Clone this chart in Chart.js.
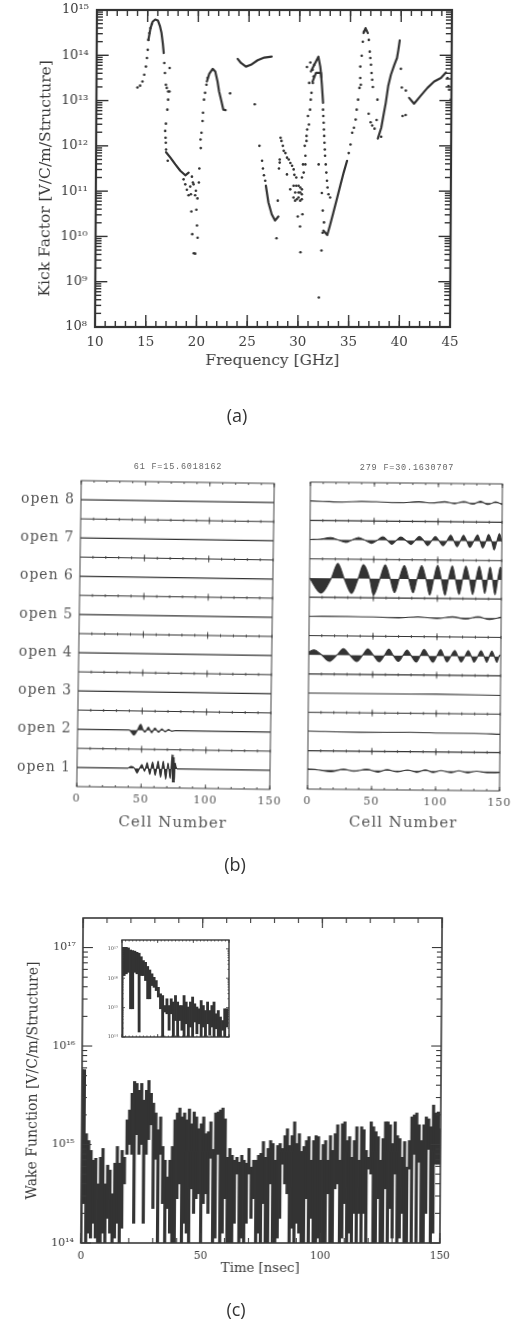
<!DOCTYPE html>
<html><head><meta charset="utf-8">
<script src="https://cdn.jsdelivr.net/npm/chart.js@4/dist/chart.umd.js"></script>
<style>
html,body{margin:0;padding:0;background:#fff;width:512px;height:1333px;overflow:hidden}
#page{position:relative;width:512px;height:1333px;overflow:hidden;filter:blur(0.45px)}
canvas{position:absolute}
.cap{position:absolute;font-family:"Open Sans",sans-serif;font-size:18px;color:#333;transform:translateX(-50%)}
.head{position:absolute;font-family:"Liberation Mono",monospace;font-size:8.5px;color:#666;letter-spacing:0.8px;transform:translateX(-50%);white-space:nowrap}
</style></head><body>
<div id="page">
<canvas id="ca" width="512" height="375" style="left:0px;top:0px"></canvas>
<canvas id="bl" width="290" height="385" style="left:0px;top:455px"></canvas>
<canvas id="br" width="240" height="385" style="left:290px;top:455px"></canvas>
<canvas id="cc" width="512" height="385" style="left:0px;top:900px"></canvas>
<canvas id="ci" width="140" height="110" style="left:100px;top:935px"></canvas>
<div class="cap" style="left:237px;top:403px">(a)</div>
<div class="cap" style="left:235px;top:852px">(b)</div>
<div class="cap" style="left:236px;top:1297px">(c)</div>
<div class="head" style="left:178px;top:462px">61 F=15.6018162</div>
<div class="head" style="left:407px;top:463px">279 F=30.1630707</div>
</div>
<script>
/* ---------- panel (a): kick factor, log10 of value ---------- */
const freqTicks=[10,15,20,25,30,35,40,45];
const kickTicks=[1e8,1e9,1e10,1e11,1e12,1e13,1e14,1e15];
const kickLabels=["10⁸","10⁹","10¹⁰","10¹¹","10¹²","10¹³","10¹⁴","10¹⁵"];
const scatterFreq=[14.04,14.3,14.53,14.7,14.86,14.96,15.03,15.09,15.19,15.29,15.42,16.67,16.74,16.84,16.93,17.07,17.2,17.2,17.07,17.0,16.87,16.8,16.84,16.87,16.9,17.07,
18.64,18.81,18.97,19.14,19.37,19.3,19.56,19.63,19.86,19.79,20.02,20.15,19.46,20.19,19.43,19.92,19.99,19.53,20.06,19.69,19.83,20.29,20.32,
20.38,20.48,20.52,20.61,20.71,20.84,20.94,23.18,25.61,26.1,26.37,26.46,26.56,26.69,27.84,27.94,
28.18,28.27,28.41,28.5,28.67,28.83,29.0,29.16,29.33,29.49,29.56,29.75,28.83,28.11,28.11,28.04,29.16,29.49,29.75,29.98,30.15,30.31,29.65,29.98,30.15,30.31,29.49,29.82,30.15,29.65,30.31,29.98,30.38,29.92,30.15,30.21,32.28,32.05,
30.31,30.48,30.64,30.41,30.64,30.57,30.74,30.74,30.8,30.97,30.87,31.07,31.13,31.2,31.33,31.4,30.97,30.74,31.07,31.3,31.46,
32.35,32.38,32.42,32.45,32.48,32.51,32.55,32.58,32.65,32.71,32.78,32.84,32.94,33.1,31.95,32.28,32.38,32.51,32.38,
34.91,35.08,35.24,35.41,35.57,35.67,35.8,35.93,36.06,36.0,36.0,36.13,36.23,36.33,
36.82,36.92,36.98,37.05,37.11,37.18,37.25,37.71,36.85,37.05,37.21,37.44,37.64,
40.0,40.1,40.5,40.2,40.5,38.1,44.6,44.77,44.94,44.7];
const scatterLogK=[13.29,13.33,13.42,13.57,13.75,13.94,14.12,14.34,14.49,14.6,14.69,13.83,13.61,13.35,13.28,13.2,13.2,13.72,13.02,12.8,12.49,12.33,12.18,12.07,11.92,11.67,
11.26,11.15,11.03,10.91,10.93,11.1,11.19,11.15,11.01,10.91,10.84,11.19,11.32,11.5,10.55,10.59,10.24,10.05,9.97,9.63,9.62,12.14,11.95,
12.29,12.55,12.73,13.02,13.17,13.35,13.5,13.16,12.92,12.0,11.67,11.5,11.35,11.23,9.96,10.79,
12.18,12.11,12.0,11.89,11.84,11.74,11.7,11.62,11.56,11.48,11.36,11.3,11.37,11.7,11.63,11.5,11.04,11.12,11.12,11.12,11.08,11.04,10.97,10.97,10.97,10.93,10.86,10.82,10.79,10.79,10.82,10.86,10.49,10.44,10.22,9.65,9.69,8.65,
11.3,11.41,11.59,11.59,11.78,12.0,12.11,12.22,12.36,12.47,12.66,12.8,13.02,13.17,13.39,13.53,13.39,13.74,13.84,13.68,13.79,
12.8,12.66,12.51,12.36,12.22,12.07,11.92,11.78,11.59,11.41,11.23,11.08,10.93,10.86,11.59,10.96,10.57,10.31,10.08,
11.84,12.03,12.29,12.4,12.58,12.8,13.02,13.28,13.35,13.5,13.75,13.99,14.3,14.52,
14.34,14.08,13.94,13.79,13.61,13.46,13.3,13.02,12.71,12.52,12.45,12.38,12.57,
13.7,13.29,13.22,12.66,12.68,12.2,13.5,13.24,13.02,13.32];
const ridgeFreq=[
 [15.09,15.29,15.49,15.75,16.01,16.21,16.38,16.51,16.61],
 [16.9,17.33,17.82,18.31,18.81,19.14],
 [20.88,21.11,21.44,21.7,21.93,22.09,22.32,22.52,22.75],
 [26.76,27.02,27.35,27.68,28.01],
 [23.9,24.23,24.72,25.21,25.87,26.53,27.25],
 [31.13,31.46,31.86,32.05,32.18],
 [31.3,31.63,32.12,32.22,32.35],
 [32.45,32.84,33.1,33.43,33.76,34.09,34.42,34.75],
 [36.29,36.49,36.72],
 [37.77,38.1,38.3,38.53,38.76,39.02,39.35,39.61,39.74,39.87],
 [40.83,41.32,41.98,42.63,43.29,43.95,44.44]];
const ridgeLogK=[
 [14.34,14.6,14.74,14.79,14.77,14.65,14.49,14.27,14.05],
 [11.86,11.74,11.59,11.45,11.35,11.41],
 [13.42,13.59,13.7,13.64,13.42,13.2,12.99,12.8,12.79],
 [11.12,10.75,10.49,10.35,10.44],
 [13.92,13.83,13.75,13.79,13.89,13.95,13.97],
 [13.64,13.79,13.97,13.75,13.5],
 [13.42,13.61,13.61,13.35,12.95],
 [10.13,10.03,10.24,10.53,10.82,11.12,11.41,11.67],
 [14.49,14.6,14.49],
 [12.16,12.4,12.66,12.95,13.32,13.57,13.79,13.94,14.12,14.33],
 [13.06,12.93,13.11,13.28,13.42,13.5,13.62]];

/* ---------- panel (b): mode amplitudes by cell, in row units ---------- */
const cellTicks=[0,50,100,150];
const rowLabels=["open 1","open 2","open 3","open 4","open 5","open 6","open 7","open 8"];
const rowBase=[1,3,5,7,9,11,13,15];
const tickRows=[2,4,6,8,10,12,14];
const flatCells=[0,150], flatAmp=[0,0];
const leftOpen2Cells=[0,40,44,46.5,49,51,52.5,55,57.6,60,63,65.5,68,70.7,73,76,150];
const leftOpen2Amp=[0,0,-0.26,0,0.3,0,-0.1,0.16,-0.13,0.12,-0.1,0.08,-0.07,0.05,-0.03,0,0];
const leftOpen1Cells=[0,39.5,42,44.7,46.7,48.6,50.4,52.5,54.5,56.6,58.7,60.8,63,65,67,69,70.7,72.5,73.8,74.2,74.6,75,75.4,75.8,76.2,77,78,150];
const leftOpen1Amp=[0,0,0.1,0,-0.25,0,0.2,-0.15,0.3,-0.3,0.35,-0.35,0.4,-0.45,0.4,-0.55,0.3,-0.5,0.75,-0.7,0.75,-0.7,0.6,-0.7,0.3,0.1,0,0];
const rightOpen8Cells=[0,10,25,40,55,70,85,95,105,113,120,127,133,139,145,150];
const rightOpen8Amp=[0.02,0,-0.03,0.02,0,-0.03,0.03,-0.03,0.04,-0.05,0.06,-0.07,0.08,-0.08,0.06,-0.08];
const rightOpen7Cells=[0,8,16,22,28,33,38,43,48,52.5,57,60.5,64,67.5,71,75,79,82,85.5,89,92,95,98,101,104,107,110,112.5,115,117.5,120,122.5,125,128,131,133,135,137.5,139.5,142,144,146,148,150];
const rightOpen7Amp=[0,0.03,0.12,0,-0.13,0,0.13,0,-0.16,0,0.18,0,-0.2,0,0.18,0,-0.2,0,0.22,0,-0.25,0,0.22,0,-0.25,0,0.3,0,-0.3,0,0.3,0,-0.32,0,0.32,0,-0.35,0,0.35,0,-0.45,0,0.4,0];
const rightOpen6Cells=[0,9,17,22,27,33,38,42,47,50,55,59,63,66.5,70,74,77.5,81,84,87.5,91,94,97,100,103,106,108.5,111.5,114,117,119.5,122,125,127.5,130,132.5,135,137,139,141,143,145,147,149,150];
const rightOpen6Amp=[0,-0.78,0,0.78,0,-0.78,0,0.72,0,-0.86,0,0.72,0,-0.72,0,0.7,0,-0.72,0,0.7,0,-0.83,0,0.72,0,-0.83,0,0.7,0,-0.78,0,0.7,0,-0.78,0,0.7,0,-0.72,0,0.66,0,-0.78,0,0.66,0.5];
const rightOpen5Cells=[0,30,50,70,85,100,112,122,132,141,150];
const rightOpen5Amp=[0,0.02,0,-0.03,0.03,-0.05,0.05,-0.06,0.06,-0.07,0.05];
const rightOpen4Cells=[0,4,10,16,22,27,32,37.5,42,46,50.5,55,59,62.5,66,70,73.5,76.7,80,84,87,90,93.5,97,100,103,105.5,108,111,114,116.5,119,122,124.5,127,129,132,134.5,137,139,141,143,145,147,148.5,149.5];
const rightOpen4Amp=[0.15,0.26,0,-0.33,0,0.33,0,-0.33,0,0.33,0,-0.33,0,0.33,0,-0.3,0,0.3,0,-0.33,0,0.33,0,-0.33,0,0.33,0,-0.3,0,0.3,0,-0.3,0,0.3,0,-0.3,0,0.3,0,-0.3,0,0.28,0,-0.3,0,0.1];
const rightOpen3Cells=[0,60,100,150];
const rightOpen3Amp=[0,0,0.01,-0.02];
const rightOpen2Cells=[0,40,80,110,130,150];
const rightOpen2Amp=[0.02,-0.01,0.01,-0.02,-0.02,-0.05];
const rightOpen1Cells=[0,8,18,28,36,46,55,62,70,78,85,92,98,104,112,118,125,132,140,150];
const rightOpen1Amp=[0.05,0,-0.08,0.05,-0.05,0.06,-0.08,0.05,-0.06,0.04,-0.07,0.05,-0.07,0.03,-0.07,0.03,-0.07,0.02,-0.06,-0.05];

/* ---------- panel (c): wake per ns, log10 of top and bottom of the trace ---------- */
const timeTicks=[0,50,100,150];
const wakeTicks=[1e14,1e15,1e16,1e17];
const wakeLabels=["10¹⁴","10¹⁵","10¹⁶","10¹⁷"];
const wakeHigh=[
15.76,15.76,15.11,15.04,14.94,14.84,14.86,14.6,14.87,14.96,
14.6,14.79,14.74,14.5,14.81,14.98,14.81,14.94,14.87,15.25,
15.35,15.52,15.64,15.62,15.55,15.62,15.45,15.55,15.65,15.52,
15.42,15.32,15.15,15.28,14.98,14.84,14.67,14.84,14.98,15.25,
15.32,15.37,15.28,15.32,15.25,15.36,15.21,15.33,15.28,15.16,
15.21,15.28,15.11,15.13,15.23,14.95,15.32,15.33,15.35,15.37,
15.26,14.87,14.96,14.89,14.84,14.87,14.82,14.89,14.84,14.81,
14.96,14.77,14.84,14.84,14.89,14.91,15.03,14.87,14.96,15.04,
15.01,14.84,14.99,15.01,14.96,15.09,15.16,14.99,15.09,15.23,
15.01,15.11,14.93,14.98,15.04,15.08,14.84,15.04,15.09,15.08,
14.84,15.0,15.04,14.84,15.09,14.94,15.11,15.2,14.84,15.21,
15.23,15.04,15.08,14.87,15.04,15.18,14.84,15.18,15.15,14.94,
14.87,15.23,15.18,15.13,15.08,14.84,15.06,15.23,15.23,15.2,
15.01,15.23,15.09,15.06,14.87,15.03,14.77,15.04,15.28,15.3,
15.32,15.2,15.04,15.2,15.28,15.26,15.18,15.4,15.32,15.33,15.16];
const wakeLow=[
14,14.4,14,14.1,14.05,14.2,14.05,14,14,14.1,
14,14.25,14.1,14,14.05,14.2,14,14.15,14.6,14.9,
15,14.9,14.2,15.1,14.9,15,14.2,14.9,15.05,15.2,
14.35,14.85,14,14.9,14.4,14,14.35,14.1,14,14,
14.45,14.6,14,14.2,14.1,14,14.55,14.3,14.45,14.5,
14,14.4,14.5,14.3,14.86,14,14.05,14.9,14,14.1,
14.45,14,14,14,14.2,14.7,14,14.05,14,14.2,
14.7,14.25,14.45,14,14.1,14,14.4,14,14,14.6,
14,14,14.05,14.25,14.8,14.6,14.5,14,14.15,14,
14.2,14.1,14,14,14.45,14,14.25,14,14,14.05,
14,14,14,14.5,14,14,14.55,14.6,14,14.05,
14.4,14,14.1,14,14.3,14,14.3,14,14.3,14,
14.75,14.7,14,14,14.45,14,14,14.55,14,14.35,
14.05,14.7,14,14.05,14.3,14,14,14.75,14,14.9,
14,14.82,14,14,14.3,14.95,14,14.1,14.8,14.8,14.8];
/* inset: one entry every 3 ns */
const insetHigh=[17.05,17.05,17.05,17.03,16.96,16.94,16.92,16.88,16.85,16.73,16.6,16.54,16.4,16.28,16.15,16.03,15.92,15.69,15.47,15.41,15.07,15.3,15.07,15.3,15.19,15.41,15.19,15.07,15.07,15.41,15.19,15.02,15.19,15.36,15.13,15.02,14.96,15.24,15.07,14.9,15.19,14.9,15.07,15.19,14.79,14.9,14.68,14.56,14.96,14.96];
const insetLow=[14,16.09,16.15,16.2,14.96,14.96,16.2,16.15,14.17,16.09,16.09,15.92,15.3,15.3,15.75,15.69,15.58,15.36,14.96,14,14.85,14.79,14.23,14.79,14,14.56,14,14.56,14.23,14,14.45,14,14.34,14,14.51,14.11,14.45,14,14.34,14,14.45,14.06,14.34,14,14.28,14,14,14.23,14,14.34];
const insetStep=3;

/* ---------- helpers ---------- */
const INK='#3a3a3a';
function decadeMinors(from,to){const r=[];for(let e=from;e<to;e++)for(let m=2;m<=9;m++)r.push(m*Math.pow(10,e));return r;}
function range(a,b,s){const r=[];for(let v=a;v<=b;v+=s)r.push(v);return r;}
const marks={id:'marks',
 beforeDraw(c,a,o){c.ctx.letterSpacing=o.spacing||'0px';},
 afterDatasetsDraw(c,a,o){
  const {ctx,chartArea:A,scales:{x,y}}=c;ctx.save();ctx.strokeStyle=o.color||INK;
  const seg=(x1,y1,x2,y2)=>{ctx.beginPath();ctx.moveTo(x1,y1);ctx.lineTo(x2,y2);ctx.stroke();};
  ctx.lineWidth=o.tickWidth||1;
  const xt=(l,n)=>(l||[]).forEach(v=>{const p=x.getPixelForValue(v);seg(p,A.top,p,A.top+n);seg(p,A.bottom,p,A.bottom-n);});
  const yt=(l,n)=>(l||[]).forEach(v=>{const p=y.getPixelForValue(v);seg(A.left,p,A.left+n,p);seg(A.right,p,A.right-n,p);});
  xt(o.xMinor,o.minLen);xt(o.xMajor,o.majLen);yt(o.yMinor,o.minLen);yt(o.yMajor,o.majLen);
  (o.rows||[]).forEach(r=>{const p=y.getPixelForValue(r);
    (o.rowMinor||[]).forEach(v=>{const q=x.getPixelForValue(v);seg(q,p-1.5,q,p+1.5);});
    (o.rowMajor||[]).forEach(v=>{const q=x.getPixelForValue(v);seg(q,p-3.5,q,p+3.5);});});
  ctx.lineWidth=o.frame||1.5;ctx.strokeRect(A.left,A.top,A.right-A.left,A.bottom-A.top);
  ctx.restore();}};
function build(id,box,type,datasets,xc,yc,markOpts){
 const xs=Object.assign({type:'linear',offset:false,grid:{display:false,drawTicks:false},border:{display:false},afterFit:s=>{s.height=box.h-box.b;}},xc);
 const ys=Object.assign({grid:{display:false,drawTicks:false},border:{display:false},afterFit:s=>{s.width=box.l;}},yc);
 return new Chart(document.getElementById(id),{type,data:{datasets},plugins:[marks],options:{
  responsive:false,animation:false,devicePixelRatio:1,events:[],
  layout:{padding:{left:0,right:box.w-box.r,top:box.t,bottom:0}},
  plugins:{legend:{display:false},tooltip:{enabled:false},title:{display:false},marks:markOpts},
  scales:{x:xs,y:ys}}});
}
function fixedTicks(list){return s=>{s.ticks=list.map(v=>({value:v}));};}
const zip=(a,b,f)=>a.map((v,i)=>({x:v,y:f(b[i])}));
const pow10=e=>Math.pow(10,e);

/* ---------- panel (a) ---------- */
const aData=[{data:zip(scatterFreq,scatterLogK,pow10),showLine:false,pointRadius:1.3,pointBackgroundColor:'#333',pointBorderWidth:0}];
ridgeFreq.forEach((f,i)=>aData.push({data:zip(f,ridgeLogK[i],pow10),showLine:true,borderColor:'#333',borderWidth:2.2,pointRadius:0,tension:0,borderCapStyle:'round',borderJoinStyle:'round'}));
const serifA='"DejaVu Serif",serif';
const chA=build('ca',{l:96,r:451,t:10,b:327,w:512,h:375},'scatter',aData,
 {min:10,max:45,afterBuildTicks:fixedTicks(freqTicks),
  ticks:{autoSkip:false,maxRotation:0,padding:7,color:INK,font:{family:serifA,size:13.5}},
  title:{display:true,text:'Frequency [GHz]',color:INK,font:{family:serifA,size:15.4},padding:{top:0,bottom:5}}},
 {type:'logarithmic',min:1e8,max:1e15,afterBuildTicks:fixedTicks(kickTicks),grid:{display:false,drawTicks:true,tickLength:6},
  ticks:{autoSkip:false,padding:2,color:INK,font:{family:serifA,size:13},callback:(v,i)=>kickLabels[i]},
  title:{display:true,text:'Kick Factor [V/C/m/Structure]    ',color:INK,font:{family:serifA,size:15.5},padding:{top:37,bottom:0}}},
 {xMajor:freqTicks,xMinor:range(10,45,1),yMajor:kickTicks,yMinor:decadeMinors(8,15),majLen:12,minLen:6,frame:2.2,tickWidth:1.4,color:'#333'});

/* ---------- panel (b) ---------- */
const serifB='"DejaVu Serif",serif';
function rowSet(cells,amp,base,filled){return {data:cells.map((c,i)=>({x:c,y:base+amp[i]})),showLine:true,borderColor:'#333',borderWidth:1.1,pointRadius:0,
  cubicInterpolationMode:'monotone',fill:filled?{value:base}:false,backgroundColor:'#333'};}
const baseRows=tickRows.map(r=>rowSet(flatCells,flatAmp,r,false));
const bMarks={xMajor:cellTicks,xMinor:range(0,150,10),rows:tickRows,rowMinor:range(10,150,10),rowMajor:[50,100],majLen:4,minLen:2,frame:1,tickWidth:0.9,spacing:'1px',color:'#444'};
const bX={min:0,max:150,afterBuildTicks:fixedTicks(cellTicks),
  ticks:{autoSkip:false,maxRotation:0,padding:6,color:'#555',font:{family:serifB,size:11}},
  title:{display:true,text:'Cell Number',color:'#555',font:{family:serifB,size:15},padding:{top:0,bottom:8}}};
const leftRows=[rowSet(leftOpen1Cells,leftOpen1Amp,1,true),rowSet(leftOpen2Cells,leftOpen2Amp,3,true)];
for(let i=2;i<8;i++)leftRows.push(rowSet(flatCells,flatAmp,rowBase[i],false));
build('bl',{l:79,r:272,t:27,b:333,w:290,h:385},'scatter',baseRows.concat(leftRows),bX,
 {type:'linear',min:0,max:16,afterBuildTicks:fixedTicks(rowBase),
  ticks:{autoSkip:false,padding:6,color:'#555',font:{family:serifB,size:14},callback:(v,i)=>rowLabels[i]}},bMarks);
const rightRows=[rowSet(rightOpen1Cells,rightOpen1Amp,1,true),rowSet(rightOpen2Cells,rightOpen2Amp,3,false),rowSet(rightOpen3Cells,rightOpen3Amp,5,false),
 rowSet(rightOpen4Cells,rightOpen4Amp,7,true),rowSet(rightOpen5Cells,rightOpen5Amp,9,true),rowSet(rightOpen6Cells,rightOpen6Amp,11,true),
 rowSet(rightOpen7Cells,rightOpen7Amp,13,true),rowSet(rightOpen8Cells,rightOpen8Amp,15,true)];
build('br',{l:19,r:211,t:28,b:335,w:240,h:385},'scatter',baseRows.concat(rightRows),bX,
 {type:'linear',min:0,max:16,display:false},bMarks);
document.getElementById('bl').style.cssText+=';transform-origin:175px 180px;transform:rotate(0.85deg)';
document.getElementById('br').style.cssText+=';transform-origin:115px 180px;transform:rotate(0.55deg)';
document.getElementById('ca').style.cssText+=';transform-origin:273px 168px;transform:skewX(-0.35deg)';
document.getElementById('cc').style.cssText+=';transform-origin:261px 180px;transform:skewX(-0.4deg)';

/* ---------- panel (c) ---------- */
const cData=[{type:'bar',data:wakeHigh.map((h,i)=>({x:i,y:[pow10(wakeLow[i]),pow10(h)]})),backgroundColor:'#333',barThickness:2.5,borderWidth:0}];
build('cc',{l:82,r:441,t:18,b:343,w:512,h:385},'bar',cData,
 {min:0,max:150,afterBuildTicks:fixedTicks(timeTicks),
  ticks:{autoSkip:false,maxRotation:0,padding:7,color:INK,font:{family:serifA,size:10.5}},
  title:{display:true,text:'Time [nsec]',color:INK,font:{family:serifA,size:13.3},padding:{top:0,bottom:8}}},
 {type:'logarithmic',min:1e14,max:Math.pow(10,17.3),afterBuildTicks:fixedTicks(wakeTicks),
  ticks:{autoSkip:false,padding:7,color:INK,font:{family:serifA,size:11},callback:(v,i)=>wakeLabels[i]},
  title:{display:true,text:'Wake Function [V/C/m/Structure]',color:INK,font:{family:serifA,size:14},padding:{top:25,bottom:0}}},
 {xMajor:[0,50,100,150],xMinor:range(0,150,10),yMajor:wakeTicks,yMinor:decadeMinors(14,17),majLen:10,minLen:5,frame:1.6,tickWidth:1.1});

/* inset */
const iData=[{type:'bar',data:insetHigh.map((h,i)=>({x:i*insetStep,y:[pow10(insetLow[i]),pow10(h)]})),backgroundColor:'#333',barThickness:2.2,borderWidth:0}];
build('ci',{l:22,r:129,t:5,b:102,w:140,h:110},'bar',iData,
 {min:0,max:150,afterBuildTicks:fixedTicks(timeTicks),ticks:{autoSkip:false,maxRotation:0,padding:1,color:'#777',font:{size:3},callback:()=>''}},
 {type:'logarithmic',min:1e14,max:Math.pow(10,17.3),afterBuildTicks:fixedTicks(wakeTicks),grid:{display:false,drawTicks:true,tickLength:3},
  ticks:{autoSkip:false,padding:1,color:'#555',font:{family:serifA,size:5},callback:(v,i)=>wakeLabels[i]}},
 {xMajor:[0,50,100,150],xMinor:range(0,150,5),yMajor:wakeTicks,yMinor:decadeMinors(14,17),majLen:3,minLen:1.5,frame:1.4,tickWidth:0.8});
</script>
</body></html>
